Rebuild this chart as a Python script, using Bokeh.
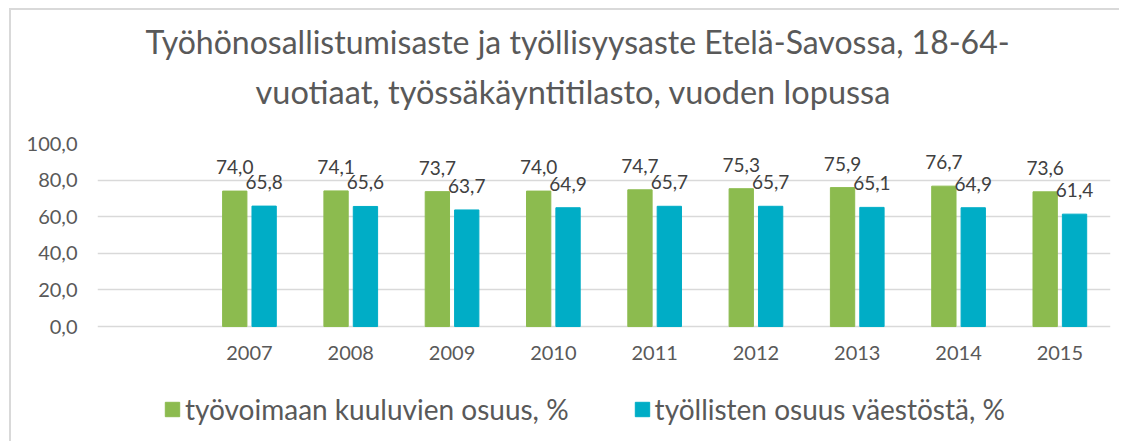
from bokeh.plotting import figure
from bokeh.models import (FactorRange, Range1d, Title, Legend, LegendItem,
                          FixedTicker, ColumnDataSource, LabelSet, CategoricalAxis)
from bokeh.transform import dodge
from bokeh.core.properties import value
from bokeh.embed import file_html
from bokeh.resources import INLINE

# ---- data ----
categories = [" ", "2007", "2008", "2009", "2010", "2011", "2012", "2013", "2014", "2015"]
years = ["2007", "2008", "2009", "2010", "2011", "2012", "2013", "2014", "2015"]
labour_share = [74.0, 74.1, 73.7, 74.0, 74.7, 75.3, 75.9, 76.7, 73.6]
employed_share = [65.8, 65.6, 63.7, 64.9, 65.7, 65.7, 65.1, 64.9, 61.4]
y_ticks = [0, 20, 40, 60, 80, 100]
y_tick_labels = ["0,0", "20,0", "40,0", "60,0", "80,0", "100,0"]
series_names = ["työvoimaan kuuluvien osuus, %", "työllisten osuus väestöstä, %"]
title_lines = ["Työhönosallistumisaste ja työllisyysaste Etelä-Savossa, 18-64-",
               "vuotiaat, työssäkäyntitilasto, vuoden lopussa"]

FONT = "Lato"
GREEN = "#8cbb4f"
BLUE = "#00adc6"
AXIS_TXT = "#595959"
LBL_TXT = "#404040"


def fmt(v):
    return f"{v:.1f}".replace(".", ",")


src = ColumnDataSource(dict(
    cat=years,
    labour=labour_share,
    employed=employed_share,
    labour_lbl=[fmt(v) for v in labour_share],
    employed_lbl=[fmt(v) for v in employed_share],
))

# value axis 0..100; the lower (negative) part of the range only hosts the
# category labels and the legend below the zero line
p = figure(x_range=FactorRange(factors=categories), y_range=Range1d(-63.9, 100),
           width=1110, height=433, output_backend="svg", toolbar_location=None,
           min_border_left=86, min_border_right=11, min_border_top=133,
           min_border_bottom=0, x_axis_location=None)
p.styles = {"margin-left": "9px", "margin-top": "8px",
            "border-left": "2px solid #d9d9d9", "border-top": "2px solid #d9d9d9"}

off = 0.145
bw = 0.24
r1 = p.vbar(x=dodge("cat", -off, range=p.x_range), top="labour", bottom=0,
            width=bw, source=src, fill_color=GREEN, line_color=GREEN)
r2 = p.vbar(x=dodge("cat", off, range=p.x_range), top="employed", bottom=0,
            width=bw, source=src, fill_color=BLUE, line_color=BLUE)

p.add_layout(LabelSet(x=dodge("cat", -off, range=p.x_range), y="labour",
                      text="labour_lbl", source=src, text_align="center",
                      text_baseline="alphabetic", y_offset=17,
                      text_font=value(FONT), text_font_size=value("19px"),
                      text_color=value(LBL_TXT)))
p.add_layout(LabelSet(x=dodge("cat", off, range=p.x_range), y="employed",
                      text="employed_lbl", source=src, text_align="center",
                      text_baseline="alphabetic", y_offset=17,
                      text_font=value(FONT), text_font_size=value("19px"),
                      text_color=value(LBL_TXT)))

# axes
xaxis = CategoricalAxis(fixed_location=0)
p.add_layout(xaxis, "below")
p.yaxis.ticker = FixedTicker(ticks=y_ticks)
p.yaxis.major_label_overrides = {t: l for t, l in zip(y_ticks, y_tick_labels)}
for ax in (xaxis, p.yaxis[0]):
    ax.axis_line_color = None
    ax.major_tick_line_color = None
    ax.minor_tick_line_color = None
    ax.major_tick_out = 0
    ax.major_tick_in = 0
    ax.major_label_text_font = FONT
    ax.major_label_text_font_size = "20px"
    ax.major_label_text_color = AXIS_TXT
p.yaxis.major_label_standoff = 20
xaxis.major_label_standoff = 13

p.xgrid.grid_line_color = None
p.ygrid.grid_line_color = "#d9d9d9"
p.ygrid.grid_line_width = 1.5
p.outline_line_color = None

# titles (p.title is the outer line)
p.title.text = title_lines[0]
p.title.align = "left"
p.title.offset = 48
p.title.text_font = FONT
p.title.text_font_size = "32px"
p.title.text_font_style = "normal"
p.title.text_color = AXIS_TXT
p.title.standoff = -48
p.add_layout(Title(text=title_lines[1], align="left", offset=158,
                   text_font=FONT, text_font_size="32.5px", standoff=66,
                   text_font_style="normal", text_color=AXIS_TXT), "above")

# legend below the category labels
legend = Legend(items=[LegendItem(label=series_names[0], renderers=[r1]),
                       LegendItem(label=series_names[1], renderers=[r2])],
                orientation="horizontal", location=(66, 17),
                glyph_width=18, glyph_height=18, label_standoff=4, spacing=64,
                label_text_font=FONT, label_text_font_size="28px",
                label_text_color=AXIS_TXT, border_line_color=None,
                background_fill_alpha=0, margin=0, padding=0)
p.add_layout(legend)

open("out.html", "w").write(file_html(p, INLINE))
